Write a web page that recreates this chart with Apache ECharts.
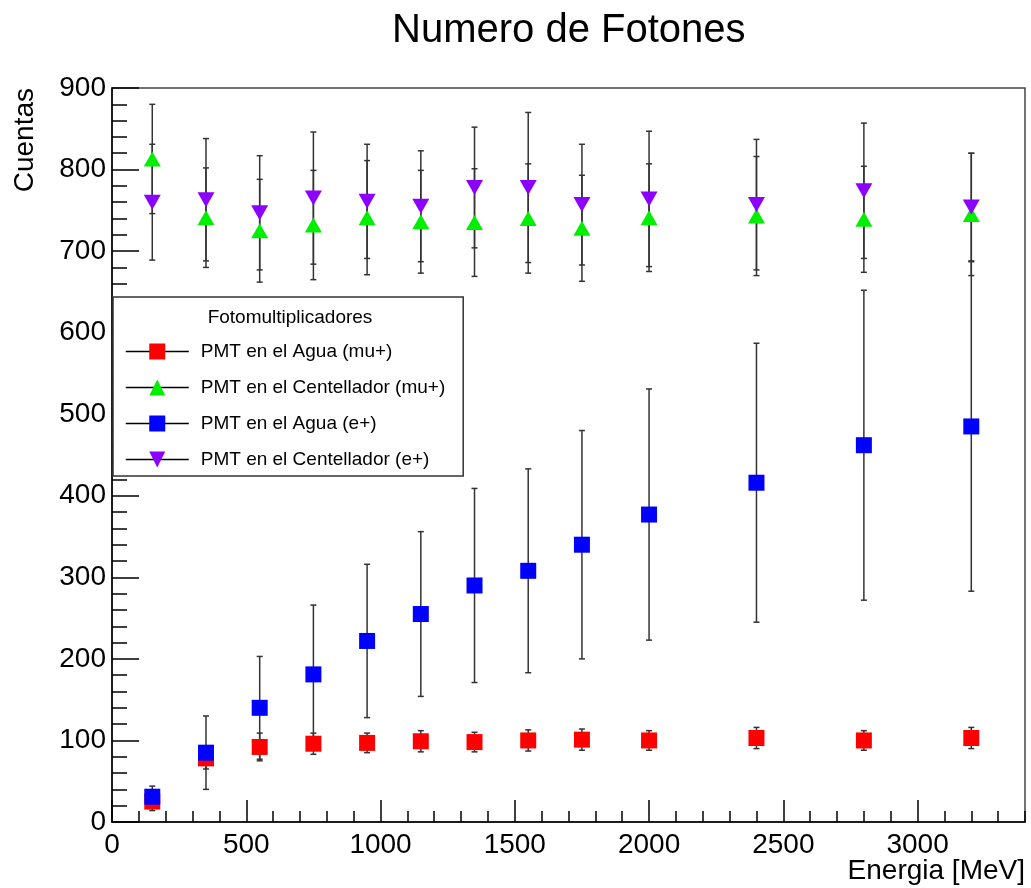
<!DOCTYPE html>
<html>
<head>
<meta charset="utf-8">
<script src="https://cdn.jsdelivr.net/npm/echarts@6/dist/echarts.min.js"></script>
<style>
  html, body { margin: 0; padding: 0; background: #fff; }
  #main { width: 1031px; height: 888px; }
</style>
</head>
<body>
<div id="main"></div>
<script>
var myChart = echarts.init(document.getElementById('main'));

// energia del haz (MeV)
var energia = [150, 350, 550, 750, 950, 1150, 1350, 1550, 1750, 2000, 2400, 2800, 3200];

// PMT en el Agua (mu+)
var aguaMu = [25, 78, 92, 96, 97, 99, 98, 100, 101, 100, 103, 100, 103];
var aguaMuErr = [11, 13, 17, 13, 12, 13, 12, 13, 13, 12, 13, 12, 13];
// PMT en el Centellador (mu+)
var centMu = [813, 741, 725, 732, 741, 736, 735, 740, 728, 741, 743, 739, 745];
var centMuErr = [67, 61, 63, 67, 70, 63, 66, 67, 65, 66, 73, 65, 75];
// PMT en el Agua (e+)
var aguaE = [31, 85, 140, 181, 222, 255, 290, 308, 340, 377, 416, 462, 485];
var aguaEErr = [13, 45, 63, 85, 94, 101, 119, 125, 140, 154, 171, 190, 202];
// PMT en el Centellador (e+)
var centE = [760, 763, 747, 765, 761, 755, 778, 778, 757, 764, 757, 774, 754];
var centEErr = [71, 75, 70, 81, 70, 68, 74, 92, 74, 83, 80, 83, 66];

var nombres = ['PMT en el Agua (mu+)', 'PMT en el Centellador (mu+)', 'PMT en el Agua (e+)', 'PMT en el Centellador (e+)'];
var colores = ['#ff0000', '#00ee00', '#0000ff', '#8c00ff'];

var FONT = 'Liberation Sans';

function puntos(y) {
  return energia.map(function (x, i) { return [x, y[i]]; });
}
function barras(y, err) {
  return energia.map(function (x, i) { return [x, y[i] - err[i], y[i] + err[i]]; });
}

// barra de error vertical con topes, estilo ROOT
function renderError(params, api) {
  var x = api.value(0);
  var lo = api.coord([x, api.value(1)]);
  var hi = api.coord([x, api.value(2)]);
  var c = 3;
  var st = { stroke: '#333', lineWidth: 1.5 };
  return {
    type: 'group',
    children: [
      { type: 'line', shape: { x1: lo[0], y1: lo[1], x2: hi[0], y2: hi[1] }, style: st },
      { type: 'line', shape: { x1: lo[0] - c, y1: lo[1], x2: lo[0] + c, y2: lo[1] }, style: st },
      { type: 'line', shape: { x1: hi[0] - c, y1: hi[1], x2: hi[0] + c, y2: hi[1] }, style: st }
    ]
  };
}

var series = [];
[[aguaMu, aguaMuErr], [centMu, centMuErr], [aguaE, aguaEErr], [centE, centEErr]].forEach(function (d, i) {
  series.push({
    name: 'err' + i,
    type: 'custom',
    renderItem: renderError,
    data: barras(d[0], d[1]),
    silent: true,
    z: 2
  });
});
var simbolos = ['rect', 'triangle', 'rect', 'triangle'];
var tamanos = [16, [17, 15], 16, [17, 15]];
var rotaciones = [0, 0, 0, 180];
[aguaMu, centMu, aguaE, centE].forEach(function (y, i) {
  series.push({
    name: nombres[i],
    type: 'line',
    data: puntos(y),
    symbol: simbolos[i],
    symbolSize: tamanos[i],
    symbolRotate: rotaciones[i],
    showSymbol: true,
    lineStyle: { width: 0, opacity: 0 },
    itemStyle: { color: colores[i], opacity: 1 },
    z: 3
  });
});

function plano(v) { return String(v); }

var option = {
  animation: false,
  backgroundColor: '#fff',
  textStyle: { fontFamily: FONT },
  title: {
    text: 'Numero de Fotones',
    left: 387,
    top: 6,
    textStyle: { fontFamily: FONT, fontSize: 40, fontWeight: 'normal', color: '#000' }
  },
  grid: {
    left: 112, right: 6, top: 88, bottom: 66,
    outerBoundsMode: 'none',
    containLabel: false,
    show: true, borderColor: '#444', borderWidth: 1.5
  },
  legend: {
    data: nombres,
    orient: 'vertical',
    left: 113,
    top: 297,
    padding: [45, 18, 7, 12],
    itemWidth: 63,
    itemHeight: 20,
    itemGap: 17,
    backgroundColor: '#fff',
    borderColor: '#333',
    borderWidth: 1.5,
    selectedMode: false,
    lineStyle: { color: '#000', width: 1.5, opacity: 1 },
    textStyle: { fontFamily: FONT, fontSize: 19, color: '#000', padding: [0, 0, 0, 7] }
  },
  graphic: [
    {
      type: 'text',
      x: 290, y: 318,
      z: 100,
      style: { text: 'Fotomultiplicadores', font: '19px "Liberation Sans"', fill: '#000', textAlign: 'center', textVerticalAlign: 'middle' }
    },
    {
      type: 'text',
      x: 25, y: 88,
      rotation: Math.PI / 2,
      style: { text: 'Cuentas', font: '28px "Liberation Sans"', fill: '#000', textAlign: 'right', textVerticalAlign: 'middle' }
    },
    {
      type: 'text',
      x: 1025, y: 871,
      style: { text: 'Energia [MeV]', font: '28px "Liberation Sans"', fill: '#000', textAlign: 'right', textVerticalAlign: 'middle' }
    }
  ],
  xAxis: [
    {
      type: 'value',
      min: 0, max: 3400, interval: 500,
      axisLine: { show: true, onZero: false, lineStyle: { color: '#000', width: 1.5 } },
      axisTick: { show: true, inside: true, length: 22, lineStyle: { color: '#000', width: 1.5 } },
      axisLabel: { fontFamily: FONT, fontSize: 28, color: '#000', margin: 9, showMaxLabel: false, formatter: plano },
      splitLine: { show: false }
    },
    {
      type: 'value',
      position: 'bottom',
      min: 0, max: 3400, interval: 100,
      axisLine: { show: false },
      axisTick: { show: true, inside: true, length: 11, lineStyle: { color: '#000', width: 1.5 } },
      axisLabel: { show: false },
      splitLine: { show: false }
    }
  ],
  yAxis: {
    type: 'value',
    min: 0, max: 900, interval: 100,
    axisLine: { show: true, onZero: false, lineStyle: { color: '#000', width: 1.5 } },
    axisTick: { show: true, inside: true, length: 27, lineStyle: { color: '#000', width: 1.5 } },
    minorTick: { show: true, splitNumber: 5, length: 15, lineStyle: { color: '#000', width: 1.5 } },
    axisLabel: { fontFamily: FONT, fontSize: 28, color: '#000', margin: 6, formatter: plano },
    splitLine: { show: false }
  },
  series: series
};

myChart.setOption(option);
</script>
</body>
</html>
